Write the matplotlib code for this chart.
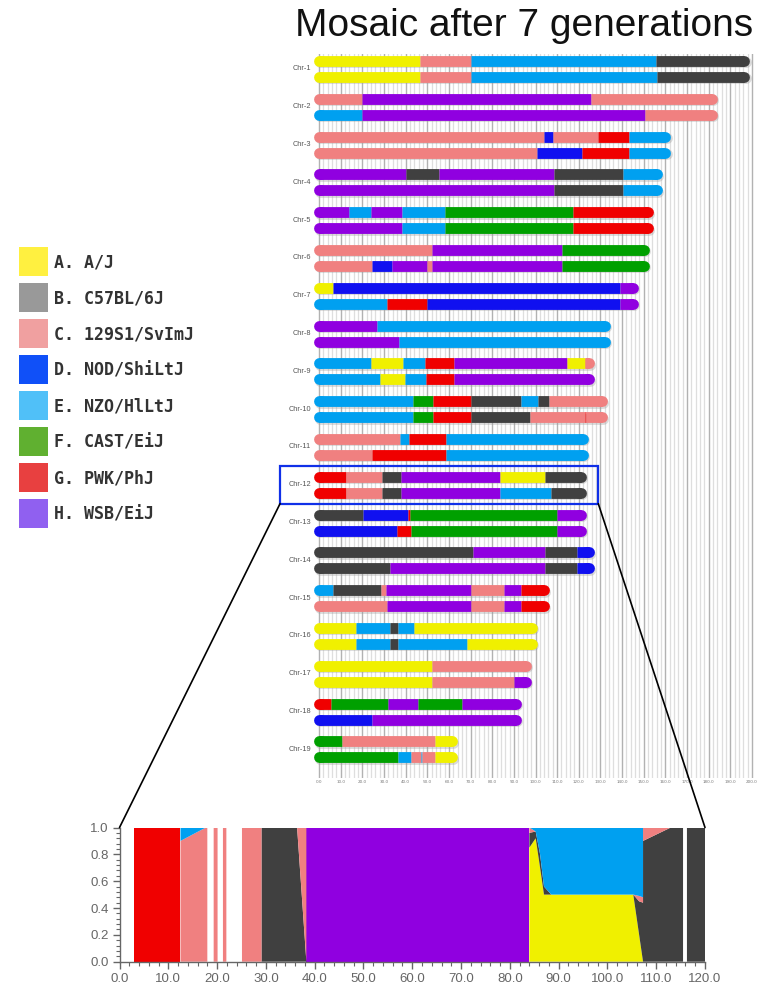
import matplotlib
matplotlib.use("Agg")
import matplotlib.pyplot as plt
from matplotlib.patches import Rectangle, ConnectionPatch
from matplotlib.ticker import MultipleLocator, FormatStrFormatter
from matplotlib.transforms import offset_copy

# colours used on the chromosome bars and the zoom panel
STRAIN_COLORS = {"A": "#f0f000", "B": "#404040", "C": "#f08080", "D": "#1010f0",
                 "E": "#00a0f0", "F": "#00a000", "G": "#f00000", "H": "#9000e0"}

legend_labels = ["A. A/J", "B. C57BL/6J", "C. 129S1/SvImJ", "D. NOD/ShiLtJ",
                 "E. NZO/HlLtJ", "F. CAST/EiJ", "G. PWK/PhJ", "H. WSB/EiJ"]
legend_colors = ["#fff040", "#999999", "#f0a0a0", "#1050f8",
                 "#50c0f8", "#60b030", "#e84040", "#9060f0"]

chr_names = ["Chr-%d" % n for n in range(1, 20)]

# haplotype blocks: (strain, block end in Mb)
hap_top = [
    [("A", 46.6), ("C", 70.2), ("E", 155.8), ("B", 196.5)],
    [("C", 19.7), ("H", 125.5), ("C", 181.7)],
    [("C", 104.0), ("D", 108.0), ("C", 129.0), ("G", 143.0), ("E", 160.0)],
    [("H", 40.2), ("B", 55.2), ("H", 108.5), ("B", 140.5), ("E", 156.0)],
    [("H", 14.0), ("E", 24.0), ("H", 38.2), ("E", 58.0), ("F", 117.4), ("G", 152.0)],
    [("C", 52.0), ("H", 112.2), ("F", 150.0)],
    [("A", 6.6), ("D", 139.0), ("H", 145.0)],
    [("H", 27.0), ("E", 132.0)],
    [("E", 24.0), ("A", 39.0), ("E", 49.0), ("G", 62.5), ("H", 114.6), ("A", 122.8), ("C", 124.6)],
    [("E", 43.2), ("F", 52.5), ("G", 70.2), ("B", 93.5), ("E", 101.0), ("B", 106.3), ("C", 130.7)],
    [("C", 37.4), ("E", 41.7), ("G", 58.6), ("E", 122.0)],
    [("G", 12.3), ("C", 29.0), ("B", 37.8), ("H", 83.7), ("A", 104.5), ("B", 121.0)],
    [("B", 20.2), ("D", 41.2), ("G", 42.0), ("F", 109.7), ("H", 121.0)],
    [("B", 71.0), ("H", 104.3), ("B", 119.0), ("D", 124.5)],
    [("E", 6.6), ("B", 28.5), ("C", 31.0), ("H", 70.0), ("C", 85.5), ("H", 93.2), ("G", 104.0)],
    [("A", 17.0), ("E", 33.0), ("B", 36.5), ("E", 44.0), ("A", 98.5)],
    [("A", 52.0), ("C", 95.5)],
    [("G", 5.4), ("F", 31.7), ("H", 45.8), ("F", 66.0), ("H", 91.0)],
    [("F", 10.6), ("C", 53.5), ("A", 61.5)],
]
hap_bottom = [
    [("A", 46.6), ("C", 70.2), ("E", 156.0), ("B", 196.5)],
    [("E", 19.7), ("H", 150.5), ("C", 181.7)],
    [("C", 100.5), ("D", 121.4), ("G", 143.0), ("E", 160.0)],
    [("H", 108.5), ("B", 140.5), ("E", 156.0)],
    [("H", 38.2), ("E", 58.0), ("F", 117.4), ("G", 152.0)],
    [("C", 24.5), ("D", 33.8), ("H", 49.7), ("C", 52.0), ("H", 112.2), ("F", 150.0)],
    [("E", 31.2), ("G", 50.0), ("D", 139.0), ("H", 145.0)],
    [("H", 37.0), ("E", 132.0)],
    [("E", 28.2), ("A", 39.5), ("E", 49.2), ("G", 62.5), ("H", 124.6)],
    [("E", 43.2), ("F", 52.5), ("G", 70.2), ("B", 97.4), ("C", 123.0), ("G", 123.5), ("C", 130.7)],
    [("C", 24.3), ("G", 58.6), ("E", 122.0)],
    [("G", 12.3), ("C", 29.0), ("B", 37.8), ("H", 83.7), ("E", 107.0), ("B", 121.0)],
    [("D", 36.2), ("G", 42.5), ("F", 109.7), ("H", 121.0)],
    [("B", 33.0), ("H", 104.3), ("B", 119.0), ("D", 124.5)],
    [("C", 31.2), ("H", 70.0), ("C", 85.5), ("H", 93.2), ("G", 104.0)],
    [("A", 17.0), ("E", 33.0), ("B", 36.6), ("E", 68.2), ("A", 98.5)],
    [("A", 52.0), ("C", 90.2), ("H", 95.5)],
    [("D", 24.6), ("H", 91.0)],
    [("F", 36.6), ("E", 42.3), ("C", 47.0), ("E", 47.8), ("C", 53.5), ("A", 61.5)],
]

# Chr-12 zoom: strain fractions along the chromosome (Mb)
zoom_x = [0.0, 3.0, 3.0, 12.5, 12.5, 17.7, 18.0, 18.0, 19.3, 19.3, 20.1, 20.1, 21.2,
          21.2, 21.9, 21.9, 25.1, 25.1, 29.1, 29.1, 36.4, 38.3, 38.3, 84.0, 84.0,
          85.3, 86.2, 87.0, 88.5, 105.3, 106.5, 107.3, 107.3, 113.0, 115.5, 115.5,
          116.3, 116.3, 120.0]
zoom_G = [0, 0, 1, 1, 0, 0, 0, 0, 0, 0, 0, 0, 0, 0, 0, 0, 0, 0, 0, 0, 0, 0, 0, 0, 0,
          0, 0, 0, 0, 0, 0, 0, 0, 0, 0, 0, 0, 0, 0]
zoom_H = [0, 0, 0, 0, 0, 0, 0, 0, 0, 0, 0, 0, 0, 0, 0, 0, 0, 0, 0, 0, 0, 0, 1, 1, 0,
          0, 0, 0, 0, 0, 0, 0, 0, 0, 0, 0, 0, 0, 0]
zoom_A = [0, 0, 0, 0, 0, 0, 0, 0, 0, 0, 0, 0, 0, 0, 0, 0, 0, 0, 0, 0, 0, 0, 0, 0, 0.85,
          0.92, 0.70, 0.50, 0.50, 0.50, 0.20, 0, 0, 0, 0, 0, 0, 0, 0]
zoom_B = [0, 0, 0, 0, 0, 0, 0, 0, 0, 0, 0, 0, 0, 0, 0, 0, 0, 0, 0, 1, 1, 0, 0, 0, 0.11,
          0.05, 0.10, 0.06, 0, 0, 0.25, 0.44, 0.90, 1, 1, 0, 0, 1, 1]
zoom_C = [0, 0, 0, 0, 0.9, 1, 1, 0, 0, 1, 1, 0, 0, 1, 1, 0, 0, 1, 1, 0, 0, 1, 0, 0, 0.04,
          0, 0, 0, 0, 0, 0.04, 0.04, 0.10, 0, 0, 0, 0, 0, 0]
zoom_E = [0, 0, 0, 0, 0.1, 0, 0, 0, 0, 0, 0, 0, 0, 0, 0, 0, 0, 0, 0, 0, 0, 0, 0, 0, 0,
          0.03, 0.20, 0.44, 0.50, 0.50, 0.51, 0.52, 0, 0, 0, 0, 0, 0, 0]

W, H = 769, 1000
fig = plt.figure(figsize=(W / 100, H / 100), dpi=100)


def fx(px):
    return px / W


def fy(py):
    return 1 - py / H


# ---- chromosome panel
x0_px, scale = 319.0, 2.165
xmin, xmax = -3.5, 201.5
top_px, bot_px = 54.0, 778.0
ax = fig.add_axes([fx(x0_px + xmin * scale), fy(bot_px),
                   (xmax - xmin) * scale / W, (bot_px - top_px) / H])
ax.set_xlim(xmin, xmax)
row_px = 37.8
ax.set_ylim(1 + (bot_px - 69) / row_px, 1 - (69 - top_px) / row_px)
for s in ax.spines.values():
    s.set_visible(False)
ax.set_xticks(range(0, 201, 10))
ax.set_xticklabels(["%.1f" % v for v in range(0, 201, 10)], fontsize=3, color="#777777")
ax.set_xticks(range(0, 201, 2), minor=True)
ax.tick_params(axis="x", which="both", length=0, pad=1.5)
ax.set_yticks([])
ax.set_axisbelow(True)
ax.grid(which="minor", axis="x", color="#dedede", lw=0.9)
ax.grid(which="major", axis="x", color="#b2b2b2", lw=1.0)

lw_bar = 7.8
shadow_tr = offset_copy(ax.transData, fig=fig, x=0.8, y=-1.0, units="points")
for i, name in enumerate(chr_names):
    row = i + 1
    ax.text(-3.8, row, name, ha="right", va="center", fontsize=5.3, color="#555555",
            family="Liberation Sans")
    for hap, dy in ((hap_top[i], -0.21), (hap_bottom[i], 0.21)):
        y = row + dy
        length = hap[-1][1]
        ax.plot([0, length], [y, y], lw=lw_bar, color="#9a9a9a", alpha=0.35,
                solid_capstyle="round", transform=shadow_tr, zorder=2)
        first_end = min(1.0, hap[0][1])
        ax.plot([0, first_end], [y, y], lw=lw_bar, color=STRAIN_COLORS[hap[0][0]],
                solid_capstyle="round", zorder=3)
        ax.plot([length - 1.0, length], [y, y], lw=lw_bar,
                color=STRAIN_COLORS[hap[-1][0]], solid_capstyle="round", zorder=3)
        start = 0
        for strain, end in hap:
            ax.plot([start, end], [y, y], lw=lw_bar, color=STRAIN_COLORS[strain],
                    solid_capstyle="butt", zorder=4)
            start = end

box = Rectangle((-18, 11.5), 147, 1.0, fill=False, edgecolor="#1030e8", lw=1.6,
                clip_on=False, zorder=6)
ax.add_patch(box)

# ---- Chr-12 zoom panel
zl, zr, zt, zb = 119.5, 705.0, 827.5, 961.7
axz = fig.add_axes([fx(zl), fy(zb), (zr - zl) / W, (zb - zt) / H])
axz.stackplot(zoom_x, zoom_G, zoom_H, zoom_A, zoom_B, zoom_C, zoom_E,
              colors=[STRAIN_COLORS[k] for k in "GHABCE"], lw=0)
axz.set_xlim(0, 120)
axz.set_ylim(0, 1)
axz.spines["top"].set_visible(False)
axz.spines["right"].set_visible(False)
for s in ("left", "bottom"):
    axz.spines[s].set_color("#666666")
    axz.spines[s].set_linewidth(1.0)
axz.xaxis.set_major_locator(MultipleLocator(10))
axz.xaxis.set_minor_locator(MultipleLocator(2))
axz.yaxis.set_major_locator(MultipleLocator(0.2))
axz.yaxis.set_minor_locator(MultipleLocator(0.04))
axz.xaxis.set_major_formatter(FormatStrFormatter("%.1f"))
axz.yaxis.set_major_formatter(FormatStrFormatter("%.1f"))
axz.tick_params(which="major", length=5, width=1.0, color="#666666",
                labelsize=9.5, labelcolor="#666666", pad=3)
axz.tick_params(which="minor", length=3, width=0.8, color="#666666")
for lab in axz.get_xticklabels() + axz.get_yticklabels():
    lab.set_family("Liberation Sans")

for xa, xb in ((-18, 0), (129, 1)):
    con = ConnectionPatch(xyA=(xa, 12.5), coordsA=ax.transData,
                          xyB=(xb, 1), coordsB=axz.transAxes,
                          color="black", lw=1.2, zorder=10)
    fig.add_artist(con)

# ---- legend and title
ov = fig.add_axes([0, 0, 1, 1])
ov.set_xlim(0, W)
ov.set_ylim(H, 0)
ov.axis("off")
ov.patch.set_visible(False)
for k, (lab, col) in enumerate(zip(legend_labels, legend_colors)):
    cy = 261.3 + 36 * k
    ov.add_patch(Rectangle((18.5, cy - 14.5), 29, 29, facecolor=col, edgecolor="none"))
    ov.text(53.5, cy + 1, lab, ha="left", va="center", fontsize=12, fontweight="bold",
            family="DejaVu Sans Mono", color="#333333")

ov.text(753, 36, "Mosaic after 7 generations", ha="right", va="baseline",
        fontsize=28, family="Liberation Sans", color="#111111")

fig.savefig("out.png", dpi=100)
